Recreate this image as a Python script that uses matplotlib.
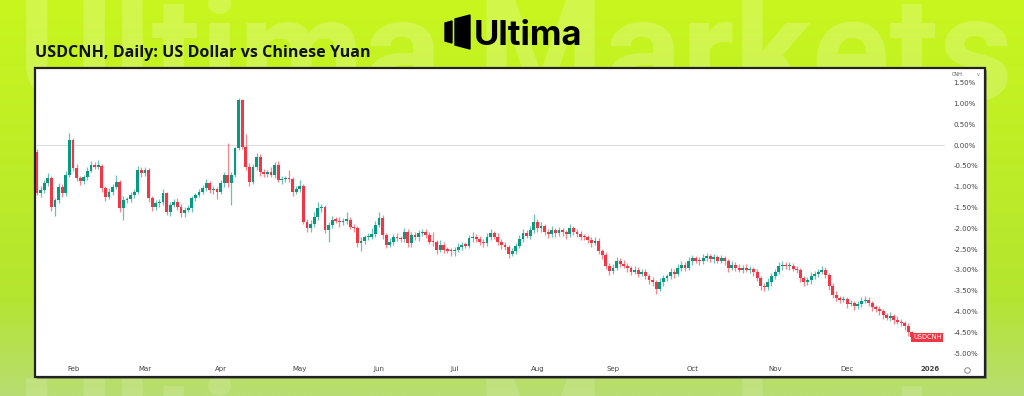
import numpy as np
import pandas as pd
import matplotlib
matplotlib.use('Agg')
import matplotlib.pyplot as plt
from matplotlib.patches import Rectangle, Polygon
from matplotlib.colors import to_rgb

# daily candles, percent change vs. the reference close (open = previous close)
first_open = -0.16
closes = [
    -1.16, -1.08, -0.92, -0.80, -1.48, -1.33, -1.00, -1.16, -0.72, 0.12,
    -0.55, -0.80, -0.86, -0.78, -0.62, -0.48, -0.52, -0.50, -1.04, -1.24,
    -1.12, -1.00, -0.88, -1.52, -1.32, -1.30, -1.20, -1.12, -0.60, -0.68,
    -0.60, -1.28, -1.50, -1.40, -1.36, -1.16, -1.62, -1.44, -1.36, -1.48,
    -1.64, -1.56, -1.52, -1.28, -1.20, -1.12, -1.04, -0.92, -1.08, -1.06,
    -1.12, -0.92, -0.72, -0.92, -0.72, -0.08, 1.08, -0.04, -0.52, -0.88,
    -0.52, -0.28, -0.65, -0.70, -0.66, -0.72, -0.48, -0.84, -0.82, -0.80,
    -0.82, -1.12, -1.06, -0.98, -1.84, -2.00, -1.90, -1.72, -1.52, -1.50,
    -2.04, -1.92, -1.80, -1.82, -1.86, -1.82, -1.80, -1.96, -2.00, -2.36,
    -2.30, -2.22, -2.20, -2.14, -1.92, -1.75, -2.16, -2.40, -2.32, -2.20,
    -2.24, -2.26, -2.08, -2.36, -2.16, -2.22, -2.12, -2.08, -2.16, -2.32,
    -2.34, -2.52, -2.40, -2.52, -2.54, -2.56, -2.52, -2.44, -2.40, -2.42,
    -2.24, -2.20, -2.26, -2.32, -2.36, -2.20, -2.12, -2.20, -2.32, -2.40,
    -2.45, -2.62, -2.55, -2.42, -2.25, -2.12, -2.18, -2.05, -1.85, -2.00,
    -1.95, -2.10, -2.15, -2.05, -2.12, -2.05, -2.10, -2.15, -2.00, -2.08,
    -2.15, -2.20, -2.22, -2.28, -2.35, -2.30, -2.55, -2.65, -2.90, -3.02,
    -2.95, -2.78, -2.85, -2.90, -2.95, -3.05, -3.00, -3.10, -3.05, -3.15,
    -3.25, -3.30, -3.45, -3.30, -3.20, -3.15, -3.05, -3.10, -2.95, -2.88,
    -2.95, -2.80, -2.72, -2.78, -2.80, -2.72, -2.68, -2.75, -2.70, -2.78,
    -2.72, -2.80, -2.95, -2.88, -2.95, -3.00, -2.95, -3.00, -2.98, -3.05,
    -3.20, -3.38, -3.42, -3.30, -3.15, -3.05, -2.92, -2.88, -2.92, -2.90,
    -2.98, -3.00, -3.20, -3.30, -3.25, -3.15, -3.10, -3.05, -3.00, -3.12,
    -3.38, -3.60, -3.68, -3.72, -3.70, -3.82, -3.80, -3.88, -3.82, -3.75,
    -3.72, -3.80, -3.90, -3.95, -4.00, -4.08, -4.15, -4.12, -4.20, -4.25,
    -4.28, -4.35, -4.50, -4.62,
]
# wick lengths above / below the body, in hundredths of a percent
wick_up = [
    6, 10, 8, 12, 5, 6, 8, 6, 10, 16,
    4, 10, 6, 5, 8, 10, 6, 15, 4, 6,
    8, 6, 16, 4, 10, 6, 8, 6, 10, 8,
    6, 4, 6, 8, 6, 10, 4, 8, 6, 8,
    5, 6, 8, 6, 5, 6, 8, 10, 6, 8,
    6, 8, 6, 76, 8, 4, 4, 2, 30, 8,
    6, 8, 6, 8, 6, 13, 6, 10, 8, 6,
    20, 6, 8, 14, 4, 6, 10, 12, 16, 8,
    6, 8, 10, 6, 8, 6, 20, 8, 6, 5,
    8, 6, 8, 14, 10, 13, 6, 5, 8, 6,
    8, 6, 8, 5, 8, 6, 8, 6, 6, 8,
    22, 5, 12, 6, 8, 6, 6, 8, 6, 8,
    8, 10, 6, 8, 6, 8, 10, 6, 8, 6,
    6, 5, 8, 6, 8, 10, 8, 10, 20, 8,
    10, 6, 8, 10, 6, 8, 6, 5, 10, 6,
    6, 8, 5, 6, 8, 10, 6, 5, 8, 6,
    10, 8, 6, 8, 6, 5, 8, 6, 8, 6,
    6, 8, 6, 10, 8, 6, 10, 6, 8, 10,
    6, 10, 8, 6, 8, 10, 8, 6, 8, 6,
    8, 6, 5, 8, 6, 8, 6, 8, 6, 5,
    6, 5, 6, 10, 8, 8, 10, 8, 6, 8,
    6, 8, 5, 6, 8, 10, 6, 8, 10, 6,
    5, 6, 8, 6, 8, 5, 8, 6, 8, 10,
    8, 6, 5, 6, 8, 6, 5, 10, 6, 8,
    6, 5, 6, 4,
]
wick_dn = [
    5, 10, 8, 6, 10, 22, 6, 8, 6, 4,
    8, 6, 10, 8, 6, 4, 6, 5, 8, 10,
    6, 8, 6, 10, 28, 8, 6, 8, 6, 8,
    6, 10, 8, 6, 10, 8, 6, 8, 6, 8,
    10, 8, 6, 8, 6, 5, 6, 6, 8, 10,
    18, 6, 8, 10, 52, 6, 4, 6, 8, 10,
    6, 8, 10, 6, 8, 6, 8, 6, 10, 6,
    8, 10, 6, 8, 6, 10, 8, 6, 8, 10,
    8, 30, 8, 6, 10, 6, 8, 6, 8, 10,
    20, 8, 6, 6, 8, 6, 10, 8, 6, 8,
    6, 8, 6, 10, 8, 6, 8, 6, 8, 6,
    8, 10, 6, 8, 6, 10, 10, 6, 8, 6,
    6, 8, 6, 8, 10, 6, 8, 6, 8, 10,
    8, 10, 6, 8, 6, 8, 6, 8, 6, 10,
    8, 6, 8, 6, 8, 6, 8, 10, 6, 8,
    6, 8, 6, 8, 10, 6, 8, 10, 8, 10,
    8, 6, 8, 6, 10, 8, 6, 8, 6, 8,
    10, 8, 13, 6, 8, 6, 8, 10, 6, 8,
    8, 6, 8, 6, 8, 6, 8, 6, 8, 6,
    6, 8, 10, 6, 8, 6, 8, 6, 8, 10,
    8, 10, 8, 6, 8, 6, 6, 8, 6, 8,
    6, 8, 10, 8, 6, 8, 6, 8, 6, 8,
    10, 8, 6, 8, 6, 10, 6, 8, 6, 8,
    6, 8, 10, 6, 8, 10, 6, 8, 10, 6,
    8, 10, 8, 6,
]
start_date = '2025-01-20'
y_ticks = [-5.0, -4.5, -4.0, -3.5, -3.0, -2.5, -2.0, -1.5, -1.0, -0.5, 0.0, 0.5, 1.0, 1.5]

UP = '#089981'
DOWN = '#F23645'

closes = np.array(closes)
opens = np.concatenate([[first_open], closes[:-1]])
highs = np.maximum(opens, closes) + np.array(wick_up) / 100
lows = np.minimum(opens, closes) - np.array(wick_dn) / 100
idx = np.arange(len(closes))
colors = np.where(closes >= opens, UP, DOWN)

# month ticks from the trading calendar
cal = pd.bdate_range(start_date, '2026-01-02')
tick_pos, tick_lab = [], []
for i in range(1, len(cal)):
    if cal[i].month != cal[i - 1].month:
        tick_pos.append(i)
        tick_lab.append(str(cal[i].year) if cal[i].month == 1 else cal[i].strftime('%b'))

W, H = 1024, 396
fig = plt.figure(figsize=(W / 100, H / 100), dpi=100)

# background banner in pixel coordinates
bg = fig.add_axes([0, 0, 1, 1])
bg.set_xlim(0, W)
bg.set_ylim(H, 0)
bg.axis('off')
c_top, c_mid, c_bot = np.array(to_rgb('#C9F61E')), np.array(to_rgb('#B4E530')), np.array(to_rgb('#B8DD72'))
t = np.linspace(0, 1, 200)[:, None]
grad = np.where(t < 0.75, c_top + (c_mid - c_top) * (t / 0.75),
                c_mid + (c_bot - c_mid) * ((t - 0.75) / 0.25))
bg.imshow(grad[:, None, :].repeat(2, axis=1), extent=(0, W, H, 0), aspect='auto', zorder=0)

# faint watermark (top, and its reflection under the panel)
bg.text(515, 100, 'Ultima Markets', fontsize=104, fontweight='bold', family='Roboto',
        color='white', alpha=0.2, ha='center', va='baseline', zorder=1, clip_on=True)
bg.text(515, 482, 'Ultima Markets', fontsize=104, fontweight='bold', family='Roboto',
        color='white', alpha=0.14, ha='center', va='baseline', zorder=1, clip_on=True)

# logo
bg.add_patch(Polygon([(445, 23), (452, 21), (452, 43), (445, 41)], color='black', zorder=2))
bg.add_patch(Polygon([(455, 19), (470, 15), (470, 49), (455, 45)], color='black', zorder=2))
bg.text(474, 45, 'Ultima', fontsize=25, fontweight='bold', family='Inter',
        color='black', ha='left', va='baseline', zorder=2)

bg.text(35, 57, 'USDCNH, Daily: US Dollar vs Chinese Yuan', fontsize=11.6, fontweight='bold',
        family='Open Sans', color='#111111', ha='left', va='baseline', zorder=2)

# white chart panel
bg.add_patch(Rectangle((37, 70), 950, 309, facecolor='#555555', alpha=0.5, zorder=2))
bg.add_patch(Rectangle((35, 68), 950, 309, facecolor='white', edgecolor='#222222', lw=1.6, zorder=3))
bg.text(952, 74, 'CNH', fontsize=3.5, color='#555555', ha='left', va='center', zorder=4)
bg.text(978, 74, 'v', fontsize=3.5, color='#777777', ha='center', va='center', zorder=4)
bg.plot(967, 370, 'o', mfc='none', mec='#888888', ms=4, mew=0.7, zorder=4)

# candle chart
top_px, bot_px = 69, 362
ax = fig.add_axes([36 / W, 1 - bot_px / H, (945 - 36) / W, (bot_px - top_px) / H])
ax.set_facecolor('none')
ax.set_xlim(-0.28, 252.2)
ax.set_ylim((145 - bot_px) / 41.6, (145 - top_px) / 41.6)
ax.axhline(0, color='#DDDDDD', lw=0.8, zorder=1)
ax.vlines(idx, lows, highs, colors=colors, lw=0.9, alpha=0.6, zorder=2)
body = np.maximum(np.abs(closes - opens), 0.03)
ax.bar(idx, body, bottom=np.minimum(opens, closes), width=0.8, color=colors, lw=0, zorder=3)

for s in ax.spines.values():
    s.set_visible(False)
ax.yaxis.tick_right()
ax.set_yticks(y_ticks)
ax.set_yticklabels([f'{v:.2f}%' for v in y_ticks])
ax.tick_params(axis='y', length=0, pad=6, labelsize=5, labelcolor='#444444')
ax.set_xticks(tick_pos)
ax.set_xticklabels(tick_lab)
ax.tick_params(axis='x', length=0, pad=3, labelsize=5, labelcolor='#444444')
ax.get_xticklabels()[-1].set_fontweight('bold')

ax.text(idx[-1] + 0.3, closes[-1], 'USDCNH', fontsize=4.8, color='white', ha='left', va='center',
        bbox=dict(boxstyle='square,pad=0.25', fc=DOWN, ec='none'), clip_on=False, zorder=5)

fig.savefig('out.png', dpi=100)
